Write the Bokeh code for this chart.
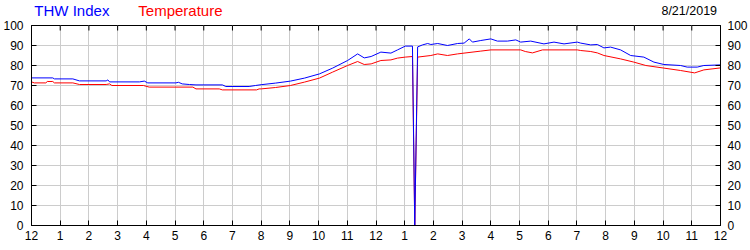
from bokeh.plotting import figure
from bokeh.models import Range1d, LinearAxis, FixedTicker
from bokeh.layouts import column
from bokeh.core.properties import value
from bokeh.embed import file_html
from bokeh.resources import INLINE

# ---- data (hours since midnight, values in degrees F) ----
thw_hours = [0.0, 0.74, 0.8, 1.44, 1.67, 2.6, 2.66, 2.72, 3.76, 3.93, 4.05, 5.03, 5.12, 5.25,
             5.5, 5.73, 6.65, 6.77, 7.58, 7.8, 8.0, 8.5, 9.02, 9.51, 10.03, 10.49, 11.01, 11.36,
             11.59, 11.83, 12.17, 12.52, 12.75, 13.02, 13.27, 13.35, 13.45, 13.62, 13.8, 13.91,
             14.15, 14.49, 14.84, 15.07, 15.25, 15.36, 15.65, 16.0, 16.23, 16.58, 16.87, 17.04,
             17.39, 17.85, 18.2, 18.55, 19.01, 19.13, 19.48, 19.71, 19.94, 20.17, 20.52, 20.87,
             21.33, 21.68, 22.03, 22.61, 22.84, 23.19, 23.42, 24.0]
thw_values = [73.8, 73.8, 73.3, 73.3, 72.3, 72.3, 72.8, 71.8, 71.8, 72.2, 71.3, 71.3, 71.6, 70.8,
              70.5, 70.3, 70.3, 69.5, 69.5, 70.0, 70.4, 71.2, 72.2, 73.7, 75.8, 78.7, 82.5, 85.8,
              83.8, 84.5, 86.7, 86.2, 87.8, 89.7, 89.7, 0.0, 89.3, 90.3, 91.0, 90.5,
              91.0, 90.0, 91.0, 91.2, 93.3, 91.7, 92.5, 93.3, 92.2, 92.2, 92.8, 91.7,
              92.2, 90.8, 91.7, 90.8, 91.7, 91.2, 90.3, 90.5, 88.8, 89.2, 87.8, 85.0,
              84.2, 81.7, 80.5, 80.0, 79.2, 79.2, 80.0, 80.3]

temp_hours = [0.0, 0.1, 0.5, 0.55, 0.74, 0.8, 1.44, 1.67, 2.6, 2.72, 2.8, 3.9, 4.1, 5.62,
              5.73, 6.54, 6.65, 7.84, 7.93, 8.0, 8.5, 9.02, 9.51, 10.03, 10.49, 11.01, 11.36,
              11.59, 11.83, 12.17, 12.52, 12.75, 13.02, 13.27, 13.35, 13.45, 13.91, 14.15,
              14.49, 14.84, 15.65, 16.0, 17.04, 17.2, 17.45, 17.8, 19.01, 19.13, 19.48, 19.71,
              19.94, 20.52, 20.98, 21.4, 22.03, 22.61, 23.1, 23.42, 24.0]
temp_values = [71.8, 71.3, 71.3, 72.0, 72.0, 71.3, 71.3, 70.5, 70.5, 70.8, 70.0, 70.0, 69.2, 69.2,
               68.3, 68.3, 67.8, 67.8, 68.3, 68.3, 69.0, 70.0, 71.7, 73.7, 76.7, 80.0, 82.0,
               80.5, 80.8, 82.5, 82.8, 83.7, 84.2, 84.5, 0.0, 84.2, 85.0, 85.8,
               85.0, 85.8, 87.2, 87.8, 87.8, 87.0, 86.3, 87.8, 87.8, 87.5, 87.0, 86.3,
               85.0, 83.3, 81.7, 80.0, 78.7, 77.5, 76.3, 77.8, 78.8]

x_ticks = list(range(0, 25))
x_tick_labels = ["12", "1", "2", "3", "4", "5", "6", "7", "8", "9", "10", "11",
                 "12", "1", "2", "3", "4", "5", "6", "7", "8", "9", "10", "11", "12"]
y_ticks = [0, 10, 20, 30, 40, 50, 60, 70, 80, 90, 100]
series_names = ["THW Index", "Temperature"]
series_colors = ["#0000FF", "#FF0000"]
date_text = "8/21/2019"

FONT = "Liberation Sans"

# ---- header strip (shares the main chart's horizontal frame: hours 0..24) ----
HEAD_H = 20
head = figure(width=750, height=HEAD_H, output_backend="svg", toolbar_location=None,
              title_location=None,
              x_range=Range1d(0, 24), y_range=Range1d(0, HEAD_H),
              min_border=0, x_axis_location=None, y_axis_location=None)
head.outline_line_color = None
head.grid.visible = False
head.background_fill_color = "white"
head.border_fill_color = "white"
mid_y = HEAD_H - 10
head.text(x=[0.1], y=[mid_y], text=[series_names[0]], text_color=series_colors[0],
          text_font=value(FONT), text_font_size="15px", text_baseline="middle")
head.text(x=[3.72], y=[mid_y], text=[series_names[1]], text_color=series_colors[1],
          text_font=value(FONT), text_font_size="15px", text_baseline="middle")
head.text(x=[23.88], y=[mid_y], text=[date_text], text_color="black", text_align="right",
          text_font=value(FONT), text_font_size="12.5px", text_baseline="middle")

# ---- main chart ----
Y_MAX = 100
p = figure(width=750, height=250 - HEAD_H, output_backend="svg", toolbar_location=None,
           title_location=None,
           x_range=Range1d(0, 24), y_range=Range1d(0, Y_MAX),
           min_border_left=30, min_border_right=30, min_border_top=5, min_border_bottom=25,
           x_axis_location=None, y_axis_location=None)
p.background_fill_color = "white"
p.border_fill_color = "white"
p.outline_line_color = "black"
p.outline_line_width = 1

label_map = {t: lab for t, lab in zip(x_ticks, x_tick_labels)}

def style_axis(ax, standoff):
    ax.axis_line_color = "black"
    ax.major_tick_line_color = "black"
    ax.major_tick_in = 5
    ax.major_tick_out = 0
    ax.minor_tick_line_color = None
    ax.major_label_text_font = FONT
    ax.major_label_text_font_size = "12px"
    ax.major_label_text_color = "black"
    ax.major_label_standoff = standoff

bottom = LinearAxis(ticker=FixedTicker(ticks=x_ticks), major_label_overrides=label_map)
style_axis(bottom, 5)
p.add_layout(bottom, "below")

left = LinearAxis(ticker=FixedTicker(ticks=y_ticks))
style_axis(left, 8)
p.add_layout(left, "left")

right = LinearAxis(ticker=FixedTicker(ticks=y_ticks))
style_axis(right, 7)
p.add_layout(right, "right")

p.xgrid.ticker = FixedTicker(ticks=x_ticks)
p.ygrid.ticker = FixedTicker(ticks=y_ticks)
p.xgrid.grid_line_color = "#cccccc"
p.ygrid.grid_line_color = "#cccccc"

# inward tick marks along the top edge of the frame (5 px = 2.5 units at 2 px/unit)
tick_len = 2.5
p.segment(x0=x_ticks, y0=[Y_MAX] * len(x_ticks), x1=x_ticks,
          y1=[Y_MAX - tick_len] * len(x_ticks), line_color="black", line_width=1)

p.line(temp_hours, temp_values, line_color=series_colors[1], line_width=1)
p.line(thw_hours, thw_values, line_color=series_colors[0], line_width=1)

layout = column(head, p, spacing=0)
open("out.html", "w").write(file_html(layout, INLINE))
